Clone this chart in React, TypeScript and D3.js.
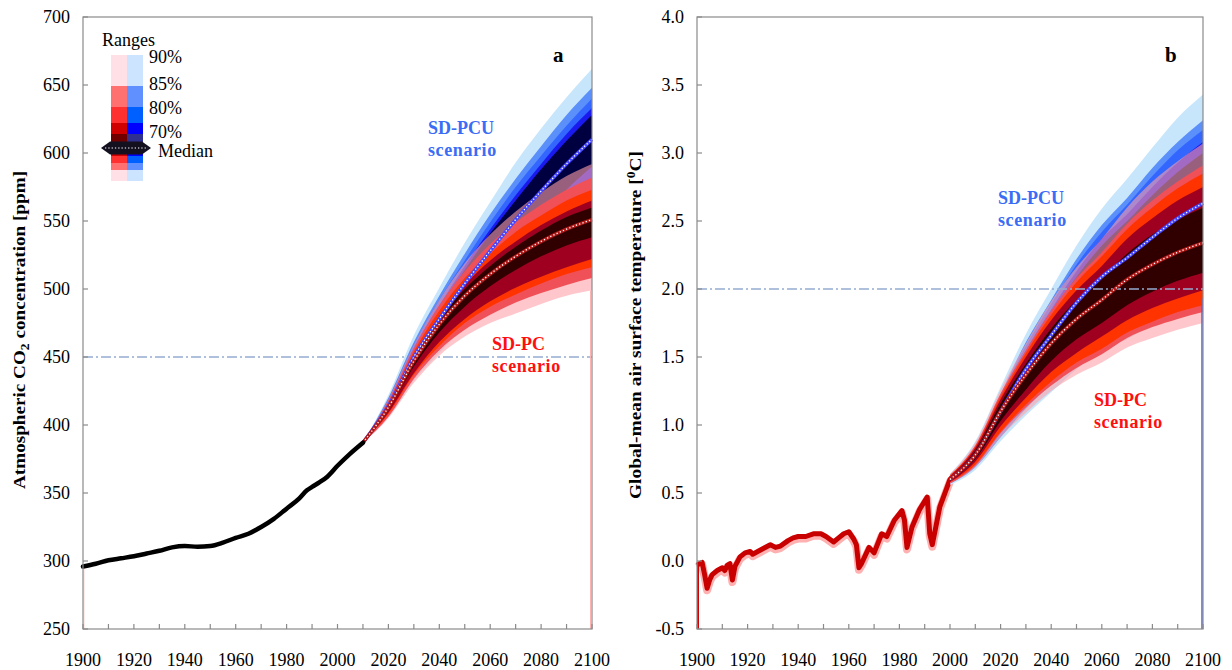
import { useEffect, useRef } from "react";
import * as d3 from "d3";

const FONT = "'Liberation Serif', 'Times New Roman', serif";

// ---- panel a: CO2 ----
const co2HistYears = [1900, 1905, 1910, 1915, 1920, 1925, 1930, 1935, 1940, 1945, 1950, 1955, 1960, 1965, 1970, 1975, 1980, 1985, 1988, 1990, 1993, 1996, 2000, 2005, 2010];
const co2Hist = [296, 298, 300.5, 302, 303.5, 305.5, 307.5, 310, 311, 310.5, 311, 313.5, 317, 320, 325, 331, 338.5, 346, 352, 354.5, 358, 362, 370, 379, 387];

const co2Years = [2010, 2020, 2030, 2040, 2050, 2060, 2070, 2080, 2090, 2100];
const co2MedPC = [387, 413, 447, 474, 495, 511, 524, 535, 544, 551];
const co2MedPCU = [387, 414, 450, 478, 504, 528, 551, 572, 592, 610];

// range levels, outer -> inner: 90%, 85%, 80%, 70%, core
const co2PCHi = [
  [387, 419, 459, 492, 519, 540, 557, 571, 583, 592],
  [387, 418, 456, 488, 513, 533, 549, 562, 573, 582],
  [387, 416, 454, 484, 508, 526, 542, 554, 565, 573],
  [387, 415, 451, 480, 503, 521, 535, 547, 557, 565],
  [387, 414, 450, 478, 500, 517, 531, 543, 553, 560],
];
const co2PCLo = [
  [387, 405, 431, 451, 465, 475, 482, 489, 495, 499],
  [387, 406, 434, 455, 470, 481, 490, 497, 503, 508],
  [387, 408, 437, 458, 475, 487, 496, 504, 511, 516],
  [387, 409, 438, 461, 478, 491, 501, 509, 516, 522],
  [387, 411, 443, 468, 487, 502, 514, 524, 532, 538],
];
const co2PCUHi = [
  [387, 422, 466, 501, 534, 564, 593, 618, 641, 662],
  [387, 420, 461, 495, 526, 555, 581, 605, 628, 648],
  [387, 419, 459, 492, 521, 549, 575, 598, 620, 640],
  [387, 417, 457, 488, 517, 544, 569, 592, 614, 633],
  [387, 417, 455, 486, 514, 541, 565, 588, 609, 628],
];
const co2PCULo = [
  [387, 406, 433, 453, 472, 489, 507, 524, 540, 555],
  [387, 407, 436, 458, 478, 496, 515, 532, 549, 565],
  [387, 409, 439, 462, 483, 503, 522, 540, 558, 574],
  [387, 410, 442, 465, 488, 508, 529, 547, 565, 582],
  [387, 411, 444, 469, 492, 514, 535, 554, 573, 590],
];
const co2Ticks = [250, 300, 350, 400, 450, 500, 550, 600, 650, 700];

// ---- panel b: temperature ----
const tHistYears = [1900, 1901, 1902, 1903, 1904, 1905, 1906, 1908, 1910, 1911, 1912, 1913, 1914, 1915, 1917, 1919, 1921, 1922, 1924, 1926, 1929, 1931, 1933, 1936, 1938, 1940, 1943, 1946, 1949, 1951, 1954, 1956, 1958, 1960, 1962, 1963, 1964, 1965, 1966, 1968, 1970, 1973, 1975, 1978, 1981, 1982, 1983, 1985, 1988, 1991, 1992, 1993, 1996, 2000, 2003];
const tHist = [-0.03, -0.02, -0.01, -0.1, -0.2, -0.14, -0.1, -0.07, -0.05, -0.07, -0.03, -0.02, -0.14, -0.04, 0.03, 0.06, 0.07, 0.05, 0.07, 0.09, 0.12, 0.1, 0.11, 0.15, 0.17, 0.18, 0.18, 0.2, 0.2, 0.18, 0.14, 0.17, 0.2, 0.215, 0.16, 0.12, -0.05, -0.02, 0.02, 0.1, 0.06, 0.2, 0.18, 0.3, 0.37, 0.3, 0.1, 0.25, 0.38, 0.47, 0.2, 0.12, 0.4, 0.6, 0.66];

const tYears = [2000, 2010, 2020, 2030, 2040, 2050, 2060, 2070, 2080, 2090, 2100];
const tMedPC = [0.6, 0.78, 1.1, 1.37, 1.6, 1.78, 1.92, 2.07, 2.18, 2.27, 2.34];
const tMedPCU = [0.6, 0.78, 1.1, 1.41, 1.66, 1.9, 2.09, 2.23, 2.38, 2.52, 2.63];
const tPCHi = [
  [0.64, 0.87, 1.26, 1.6, 1.91, 2.16, 2.37, 2.6, 2.79, 2.94, 3.07],
  [0.63, 0.85, 1.23, 1.55, 1.84, 2.08, 2.27, 2.48, 2.65, 2.79, 2.91],
  [0.63, 0.84, 1.21, 1.53, 1.81, 2.05, 2.24, 2.44, 2.6, 2.74, 2.85],
  [0.62, 0.83, 1.19, 1.5, 1.77, 1.99, 2.17, 2.37, 2.52, 2.65, 2.75],
  [0.61, 0.81, 1.16, 1.45, 1.71, 1.92, 2.08, 2.26, 2.4, 2.51, 2.6],
];
const tPCLo = [
  [0.57, 0.69, 0.91, 1.09, 1.25, 1.37, 1.46, 1.57, 1.64, 1.7, 1.75],
  [0.57, 0.7, 0.94, 1.13, 1.29, 1.42, 1.52, 1.64, 1.72, 1.78, 1.83],
  [0.58, 0.71, 0.95, 1.15, 1.32, 1.46, 1.56, 1.68, 1.76, 1.83, 1.88],
  [0.58, 0.73, 0.99, 1.2, 1.39, 1.53, 1.65, 1.77, 1.86, 1.93, 1.99],
  [0.59, 0.75, 1.03, 1.26, 1.47, 1.63, 1.75, 1.88, 1.98, 2.06, 2.12],
];
const tPCUHi = [
  [0.64, 0.88, 1.28, 1.67, 2.0, 2.32, 2.59, 2.81, 3.04, 3.26, 3.43],
  [0.63, 0.85, 1.23, 1.61, 1.92, 2.22, 2.47, 2.67, 2.89, 3.08, 3.24],
  [0.63, 0.84, 1.22, 1.58, 1.89, 2.18, 2.42, 2.62, 2.83, 3.02, 3.17],
  [0.62, 0.83, 1.2, 1.55, 1.85, 2.13, 2.37, 2.55, 2.75, 2.93, 3.08],
  [0.62, 0.82, 1.18, 1.53, 1.82, 2.09, 2.32, 2.5, 2.69, 2.86, 3.0],
];
const tPCULo = [
  [0.56, 0.67, 0.88, 1.07, 1.24, 1.41, 1.54, 1.63, 1.74, 1.85, 1.93],
  [0.57, 0.69, 0.91, 1.12, 1.3, 1.48, 1.62, 1.72, 1.83, 1.94, 2.03],
  [0.57, 0.7, 0.94, 1.17, 1.36, 1.55, 1.7, 1.8, 1.92, 2.04, 2.13],
  [0.58, 0.72, 0.97, 1.22, 1.42, 1.62, 1.78, 1.89, 2.02, 2.14, 2.23],
  [0.58, 0.73, 1.0, 1.27, 1.48, 1.69, 1.86, 1.97, 2.11, 2.23, 2.33],
];
const tTicks = [-0.5, 0, 0.5, 1, 1.5, 2, 2.5, 3, 3.5, 4];

const yearTicks = [1900, 1920, 1940, 1960, 1980, 2000, 2020, 2040, 2060, 2080, 2100];
const legendLabels = ["90%", "85%", "80%", "70%"];

// colours outer -> inner
const blueFill = ["#c8e6fb", "#5b8ff9", "#3366ff", "#1a1aee", "#000040"];
const redFill = ["#ffa0a8", "#f05058", "#ff3300", "#a00020", "#300000"];
const redOpacity = [0.6, 1, 1, 1, 1];

function drawBands(g: any, x: any, y: any, years: number[], lo: number[][], hi: number[][], fills: string[], opac: number[]) {
  lo.forEach((l, i) => {
    const area = d3.area<number>()
      .x((_, j) => x(years[j]))
      .y0((_, j) => y(l[j]))
      .y1((_, j) => y(hi[i][j]))
      .curve(d3.curveMonotoneX);
    g.append("path").attr("d", area(years)).attr("fill", fills[i]).attr("fill-opacity", opac[i]);
  });
}

function drawMedian(g: any, x: any, y: any, years: number[], vals: number[], color: string) {
  const line = d3.line<number>().x((_, j) => x(years[j])).y((d) => y(d)).curve(d3.curveMonotoneX);
  g.append("path").attr("d", line(vals)).attr("fill", "none").attr("stroke", color).attr("stroke-width", 3.4);
  g.append("path").attr("d", line(vals)).attr("fill", "none").attr("stroke", "#fff")
    .attr("stroke-width", 1.3).attr("stroke-dasharray", "1.3,2.2");
}

function drawFrame(g: any, x: any, y: any, ticks: number[], fmt: (v: number) => string) {
  const [x0, x1] = x.range();
  const [y0, y1] = y.range();
  g.append("rect").attr("x", x0).attr("y", y1).attr("width", x1 - x0).attr("height", y0 - y1)
    .attr("fill", "none").attr("stroke", "#8a8a8a").attr("stroke-width", 1.2);
  ticks.forEach((t) => {
    g.append("line").attr("x1", x0).attr("x2", x0 + 5).attr("y1", y(t)).attr("y2", y(t))
      .attr("stroke", "#8a8a8a").attr("stroke-width", 1.2);
    g.append("text").attr("x", x0 - 13).attr("y", y(t)).attr("dy", "0.35em")
      .attr("text-anchor", "end").attr("font-size", 18).attr("font-family", FONT).text(fmt(t));
  });
  d3.range(1900, 2101, 10).forEach((yr) => {
    g.append("line").attr("x1", x(yr)).attr("x2", x(yr)).attr("y1", y0).attr("y2", y0 - 5)
      .attr("stroke", "#8a8a8a").attr("stroke-width", 1.2);
  });
  yearTicks.forEach((yr) => {
    g.append("text").attr("x", x(yr)).attr("y", 666).attr("text-anchor", "middle")
      .attr("font-size", 18).attr("font-family", FONT).text(yr);
  });
}

function refLine(g: any, x: any, y: any, v: number) {
  const [x0, x1] = x.range();
  g.append("line").attr("x1", x0).attr("x2", x1).attr("y1", y(v)).attr("y2", y(v))
    .attr("stroke", "#94acd0").attr("stroke-width", 1.3).attr("stroke-dasharray", "10,3,2,3");
}

function scenarioLabel(g: any, x: number, y: number, name: string, color: string) {
  g.append("text").attr("x", x).attr("y", y).attr("fill", color).attr("font-weight", "bold")
    .attr("font-size", 18).attr("font-family", FONT).text(name);
  g.append("text").attr("x", x).attr("y", y + 22).attr("fill", color).attr("font-weight", "bold")
    .attr("font-size", 18).attr("font-family", FONT).attr("letter-spacing", 0.6).text("scenario");
}

function drawLegend(g: any) {
  const redCol = ["#ffe0e6", "#ff7070", "#ff3030", "#d00000", "#700000"];
  const blueCol = ["#cce4ff", "#6090ff", "#0060ff", "#0000ff", "#303090"];
  const rows = [55, 86, 107, 123, 134, 143];
  const rowsBelow = [149, 156, 163, 170, 181];
  for (let i = 0; i < 5; i++) {
    g.append("rect").attr("x", 111).attr("y", rows[i]).attr("width", 16).attr("height", rows[i + 1] - rows[i]).attr("fill", redCol[i]);
    g.append("rect").attr("x", 127).attr("y", rows[i]).attr("width", 16).attr("height", rows[i + 1] - rows[i]).attr("fill", blueCol[i]);
  }
  for (let i = 0; i < 4; i++) {
    g.append("rect").attr("x", 111).attr("y", rowsBelow[i]).attr("width", 16).attr("height", rowsBelow[i + 1] - rowsBelow[i]).attr("fill", redCol[3 - i]);
    g.append("rect").attr("x", 127).attr("y", rowsBelow[i]).attr("width", 16).attr("height", rowsBelow[i + 1] - rowsBelow[i]).attr("fill", blueCol[3 - i]);
  }
  g.append("polygon").attr("points", "101,148 110,141.5 142,141.5 151,148 142,154.5 110,154.5").attr("fill", "#15101f");
  g.append("line").attr("x1", 105).attr("x2", 148).attr("y1", 148).attr("y2", 148)
    .attr("stroke", "#fff").attr("stroke-width", 1.2).attr("stroke-dasharray", "1.3,2");
  g.append("text").attr("x", 102).attr("y", 46).attr("font-size", 18).attr("font-family", FONT).text("Ranges");
  const labelY = [63, 90, 114, 138];
  legendLabels.forEach((l, i) => {
    g.append("text").attr("x", 149).attr("y", labelY[i]).attr("font-size", 18).attr("font-family", FONT).text(l);
  });
  g.append("text").attr("x", 158).attr("y", 157).attr("font-size", 18).attr("font-family", FONT).text("Median");
}

export default function App() {
  const svgRef = useRef<SVGSVGElement | null>(null);

  useEffect(() => {
    if (!svgRef.current) return;
    const svg = d3.select(svgRef.current);
    svg.selectAll("*").remove();

    // ---------- panel a ----------
    const xa = d3.scaleLinear().domain([1900, 2100]).range([83, 592]);
    const ya = d3.scaleLinear().domain([250, 700]).range([629, 17]);
    const ga = svg.append("g");

    refLine(ga, xa, ya, 450);
    drawBands(ga, xa, ya, co2Years, co2PCULo, co2PCUHi, blueFill, [1, 1, 1, 1, 1]);
    drawBands(ga, xa, ya, co2Years, co2PCLo, co2PCHi, redFill, redOpacity);
    drawMedian(ga, xa, ya, co2Years, co2MedPCU, "#4545ff");
    drawMedian(ga, xa, ya, co2Years, co2MedPC, "#b01818");
    ga.append("line").attr("x1", xa(1900) + 1).attr("x2", xa(1900) + 1).attr("y1", ya(co2Hist[0])).attr("y2", ya(250))
      .attr("stroke", "#ffd6d6").attr("stroke-width", 1);
    ga.append("line").attr("x1", xa(2100) - 1.5).attr("x2", xa(2100) - 1.5).attr("y1", ya(co2PCLo[0][9])).attr("y2", ya(250))
      .attr("stroke", "#ffb4b4").attr("stroke-width", 1);
    const histLine = d3.line<number>().x((_, j) => xa(co2HistYears[j])).y((d) => ya(d)).curve(d3.curveMonotoneX);
    ga.append("path").attr("d", histLine(co2Hist)).attr("fill", "none").attr("stroke", "#000")
      .attr("stroke-width", 4.5).attr("stroke-linecap", "round");
    drawFrame(ga, xa, ya, co2Ticks, (v) => String(v));
    drawLegend(ga);
    ga.append("text").attr("x", 553).attr("y", 62).attr("font-size", 21).attr("font-weight", "bold").attr("font-family", FONT).text("a");
    scenarioLabel(ga, 428, 134, "SD-PCU", "#3a6cf5");
    scenarioLabel(ga, 492, 350, "SD-PC", "#ff1010");
    const ta = ga.append("text").attr("transform", "translate(25,330) rotate(-90)").attr("text-anchor", "middle")
      .attr("font-size", 17).attr("font-weight", "bold").attr("font-family", FONT)
      .attr("textLength", 318).attr("lengthAdjust", "spacingAndGlyphs");
    ta.append("tspan").text("Atmospheric CO");
    ta.append("tspan").attr("font-size", 12).attr("dy", 4).text("2");
    ta.append("tspan").attr("dy", -4).text(" concentration [ppm]");

    // ---------- panel b ----------
    const xb = d3.scaleLinear().domain([1900, 2100]).range([697, 1203]);
    const yb = d3.scaleLinear().domain([-0.5, 4]).range([629, 17]);
    const gb = svg.append("g");

    const tLine = d3.line<number>().x((_, j) => xb(tHistYears[j])).y((d) => yb(d));
    gb.append("path").attr("d", tLine(tHist)).attr("fill", "none").attr("stroke", "#ffb0b0")
      .attr("stroke-width", 8).attr("transform", "translate(0,2)").attr("stroke-linejoin", "round");
    gb.append("path").attr("d", tLine(tHist)).attr("fill", "none").attr("stroke", "#c80000")
      .attr("stroke-width", 5).attr("stroke-linejoin", "round");
    drawBands(gb, xb, yb, tYears, tPCULo, tPCUHi, blueFill, [1, 1, 1, 1, 1]);
    drawBands(gb, xb, yb, tYears, tPCLo, tPCHi, redFill, redOpacity);
    refLine(gb, xb, yb, 2);
    drawMedian(gb, xb, yb, tYears, tMedPCU, "#4545ff");
    drawMedian(gb, xb, yb, tYears, tMedPC, "#b01818");
    gb.append("line").attr("x1", xb(1900) + 1).attr("x2", xb(1900) + 1).attr("y1", yb(tHist[0])).attr("y2", yb(-0.5))
      .attr("stroke", "#d00000").attr("stroke-width", 2);
    gb.append("line").attr("x1", xb(2100) - 1).attr("x2", xb(2100) - 1).attr("y1", yb(tPCULo[0][10])).attr("y2", yb(-0.5))
      .attr("stroke", "#4a62ff").attr("stroke-width", 1.5);
    drawFrame(gb, xb, yb, tTicks, (v) => v.toFixed(1));
    gb.append("text").attr("x", 1165).attr("y", 62).attr("font-size", 21).attr("font-weight", "bold").attr("font-family", FONT).text("b");
    scenarioLabel(gb, 998, 204, "SD-PCU", "#3a6cf5");
    scenarioLabel(gb, 1094, 406, "SD-PC", "#ff1010");
    const tb = gb.append("text").attr("transform", "translate(641,325) rotate(-90)").attr("text-anchor", "middle")
      .attr("font-size", 17).attr("font-weight", "bold").attr("font-family", FONT)
      .attr("textLength", 348).attr("lengthAdjust", "spacingAndGlyphs");
    tb.append("tspan").text("Global-mean air surface temperature [");
    tb.append("tspan").attr("font-size", 12).attr("dy", -6).text("0");
    tb.append("tspan").attr("dy", 6).text("C]");
  }, []);

  return (
    <svg ref={svgRef} width={1232} height={670}
      style={{ position: "absolute", left: 0, top: 0, background: "#fff" }} />
  );
}
